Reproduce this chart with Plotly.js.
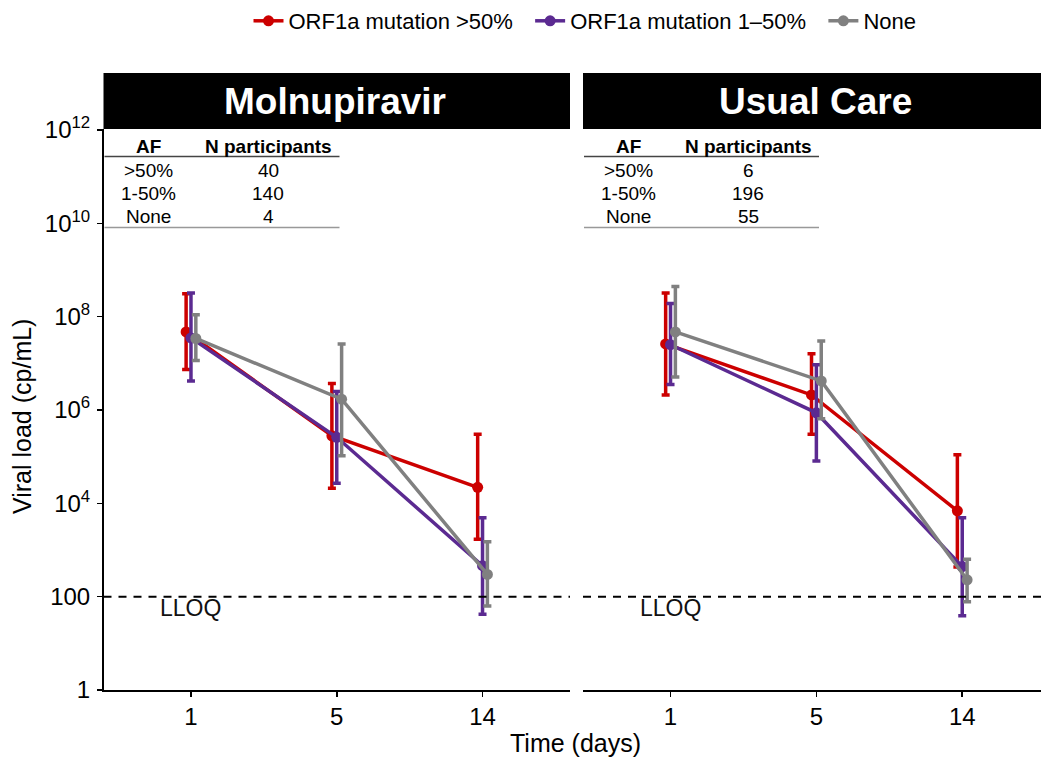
<!DOCTYPE html>
<html>
<head>
<meta charset="utf-8">
<script src="https://cdn.plot.ly/plotly-3.0.1.min.js"></script>
<style>html,body{margin:0;padding:0;background:#fff;}#chart{width:1041px;height:760px;}</style>
</head>
<body>
<div id="chart"></div>
<script>
// ---- data ----
const days = ['1', '5', '14'];
const groupNames = ['ORF1a mutation >50%', 'ORF1a mutation 1\u201350%', 'None'];
const panelTitles = ['Molnupiravir', 'Usual Care'];

// Molnupiravir arm (viral load, cp/mL): mean, lower, upper
const molHighMean = [4.7e7, 2.8e5, 2.2e4];
const molHighLo   = [7.4e6, 2.1e4, 1.7e3];
const molHighHi   = [3.1e8, 3.7e6, 3.0e5];
const molLowMean  = [3.5e7, 2.6e5, 460];
const molLowLo    = [4.2e6, 2.7e4, 42];
const molLowHi    = [3.2e8, 2.5e6, 4.9e3];
const molNoneMean = [3.4e7, 1.7e6, 300];
const molNoneLo   = [1.15e7, 1.05e5, 63];
const molNoneHi   = [1.1e8, 2.6e7, 1.5e3];

// Usual care arm
const ucHighMean = [2.6e7, 2.1e6, 6.9e3];
const ucHighLo   = [2.1e6, 3.0e5, 430];
const ucHighHi   = [3.2e8, 1.6e7, 1.1e5];
const ucLowMean  = [2.5e7, 8.7e5, 440];
const ucLowLo    = [3.5e6, 8.1e4, 39];
const ucLowHi    = [1.9e8, 9.3e6, 4.9e3];
const ucNoneMean = [4.7e7, 4.2e6, 230];
const ucNoneLo   = [5.1e6, 6.5e5, 78];
const ucNoneHi   = [4.4e8, 3.0e7, 630];

// participant tables
const afLabels = ['>50%', '1-50%', 'None'];
const molN = [40, 140, 4];
const ucN = [6, 196, 55];

const lloq = 100;
const lloqLabel = 'LLOQ';
const yTickVals = [1, 100, 1e4, 1e6, 1e8, 1e10, 1e12];
const yTickText = ['1', '100', '10<sup>4</sup>', '10<sup>6</sup>', '10<sup>8</sup>', '10<sup>10</sup>', '10<sup>12</sup>'];

// ---- styling ----
const colors = ['#CC0000', '#5B2A91', '#808080'];
const W = 1041, H = 760;
const px = x => x / W;
const py = y => 1 - y / H;
const FONT = 'Liberation Sans, Arial, Helvetica, sans-serif';
const legendPad = '\u00a0\u00a0';

const arms = [
  {xa: 'x', ya: 'y', series: [[molHighMean, molHighLo, molHighHi], [molLowMean, molLowLo, molLowHi], [molNoneMean, molNoneLo, molNoneHi]]},
  {xa: 'x2', ya: 'y2', series: [[ucHighMean, ucHighLo, ucHighHi], [ucLowMean, ucLowLo, ucLowHi], [ucNoneMean, ucNoneLo, ucNoneHi]]}
];

const traces = [];
arms.forEach((arm, ai) => {
  arm.series.forEach((s, gi) => {
    const [mean, lo, hi] = s;
    traces.push({
      type: 'scatter', mode: 'lines+markers',
      x: days, y: mean,
      xaxis: arm.xa, yaxis: arm.ya,
      name: groupNames[gi] + (gi < groupNames.length - 1 ? legendPad : ''),
      legendgroup: 'g' + gi, showlegend: ai === 0,
      line: {color: colors[gi], width: 3.5},
      marker: {color: colors[gi], size: 11},
      error_y: {type: 'data', symmetric: false,
        array: mean.map((m, i) => hi[i] - m),
        arrayminus: mean.map((m, i) => m - lo[i]),
        color: colors[gi], thickness: 3.5, width: 4},
      cliponaxis: false
    });
  });
});

const commonX = {
  type: 'category', categoryorder: 'array', categoryarray: days,
  showline: true, linecolor: '#000', linewidth: 1.5, mirror: false,
  ticks: 'outside', ticklen: 5, tickwidth: 1.5, tickcolor: '#000',
  tickfont: {size: 24, color: '#000'}, showgrid: false, zeroline: false, fixedrange: true
};
const commonY = {
  type: 'log', range: [0, 12.02], domain: [py(690), py(129)],
  tickvals: yTickVals, ticktext: yTickText,
  showgrid: false, zeroline: false, fixedrange: true
};

const shapes = [];
const annotations = [];

// strips, LLOQ lines, tables
const panelPx = [[103.5, 570], [583, 1041]];
const stripCenters = [335, 815];
const tableN = [molN, ucN];
panelPx.forEach((p, i) => {
  shapes.push({type: 'rect', xref: 'paper', yref: 'paper', x0: px(p[0]), x1: px(p[1]), y0: py(129), y1: py(73),
    fillcolor: '#000', line: {width: 0}, layer: 'below'});
  annotations.push({xref: 'paper', yref: 'paper', x: px(stripCenters[i]), y: py(101), text: '<b>' + panelTitles[i] + '</b>',
    showarrow: false, font: {size: 37, color: '#fff'}, xanchor: 'center', yanchor: 'middle'});
  const xr = i === 0 ? 'x' : 'x2', yr = i === 0 ? 'y' : 'y2';
  shapes.push({type: 'line', xref: xr + ' domain', yref: yr, x0: 0, x1: 1, y0: lloq, y1: lloq,
    line: {color: '#000', width: 2, dash: '8px,7px'}});
  annotations.push({xref: xr, yref: yr, x: days.indexOf('1'), y: Math.log10(lloq), text: lloqLabel, showarrow: false,
    yanchor: 'top', yshift: 4, font: {size: 23, color: '#111'}});
  // table
  const L = p[0];
  const afX = L + 45, nX = L + 165;
  annotations.push({xref: 'paper', yref: 'paper', x: px(afX), y: py(146.5), text: '<b>AF</b>', showarrow: false, font: {size: 19}, xanchor: 'center', yanchor: 'middle'});
  annotations.push({xref: 'paper', yref: 'paper', x: px(nX), y: py(146.5), text: '<b>N participants</b>', showarrow: false, font: {size: 19}, xanchor: 'center', yanchor: 'middle'});
  const rowY = [170.5, 193, 216.5];
  afLabels.forEach((lab, r) => {
    annotations.push({xref: 'paper', yref: 'paper', x: px(afX), y: py(rowY[r]), text: lab, showarrow: false, font: {size: 19}, xanchor: 'center', yanchor: 'middle'});
    annotations.push({xref: 'paper', yref: 'paper', x: px(nX), y: py(rowY[r]), text: String(tableN[i][r]), showarrow: false, font: {size: 19}, xanchor: 'center', yanchor: 'middle'});
  });
  shapes.push({type: 'line', xref: 'paper', yref: 'paper', x0: px(L + 1), x1: px(L + 236), y0: py(156.5), y1: py(156.5), line: {color: '#444', width: 1.5}});
  shapes.push({type: 'line', xref: 'paper', yref: 'paper', x0: px(L + 1), x1: px(L + 236), y0: py(227.5), y1: py(227.5), line: {color: '#999', width: 1.5}});
});

// axis titles
annotations.push({xref: 'paper', yref: 'paper', x: px(575), y: py(743), text: 'Time (days)', showarrow: false,
  font: {size: 25}, xanchor: 'center', yanchor: 'middle'});
annotations.push({xref: 'paper', yref: 'paper', x: px(22), y: py(417), text: 'Viral load (cp/mL)', showarrow: false,
  font: {size: 25}, textangle: -90, xanchor: 'center', yanchor: 'middle'});

const layout = {
  width: W, height: H,
  margin: {l: 0, r: 0, t: 0, b: 0},
  paper_bgcolor: '#fff', plot_bgcolor: '#fff',
  font: {family: FONT, color: '#000', size: 19},
  scattermode: 'group', scattergap: 0.9,
  showlegend: true,
  legend: {orientation: 'h', x: px(585), xanchor: 'center', y: 1, yanchor: 'top', font: {size: 22},
    itemwidth: 30, tracegroupgap: 0},
  xaxis: Object.assign({}, commonX, {domain: [px(103.5), px(570)], range: [-0.6, 2.6], anchor: 'y'}),
  xaxis2: Object.assign({}, commonX, {domain: [px(583), 1], range: [-0.6, 2.54], anchor: 'y2'}),
  yaxis: Object.assign({}, commonY, {anchor: 'x', showline: true, linecolor: '#000', linewidth: 1.5,
    ticks: 'outside', ticklen: 5, tickwidth: 1.5, tickcolor: '#000', tickfont: {size: 24, color: '#000'}, ticklabelstandoff: 2}),
  yaxis2: Object.assign({}, commonY, {anchor: 'x2', showline: false, showticklabels: false, ticks: ''}),
  shapes: shapes,
  annotations: annotations
};

Plotly.newPlot('chart', traces, layout, {staticPlot: true, displayModeBar: false});
</script>
</body>
</html>
